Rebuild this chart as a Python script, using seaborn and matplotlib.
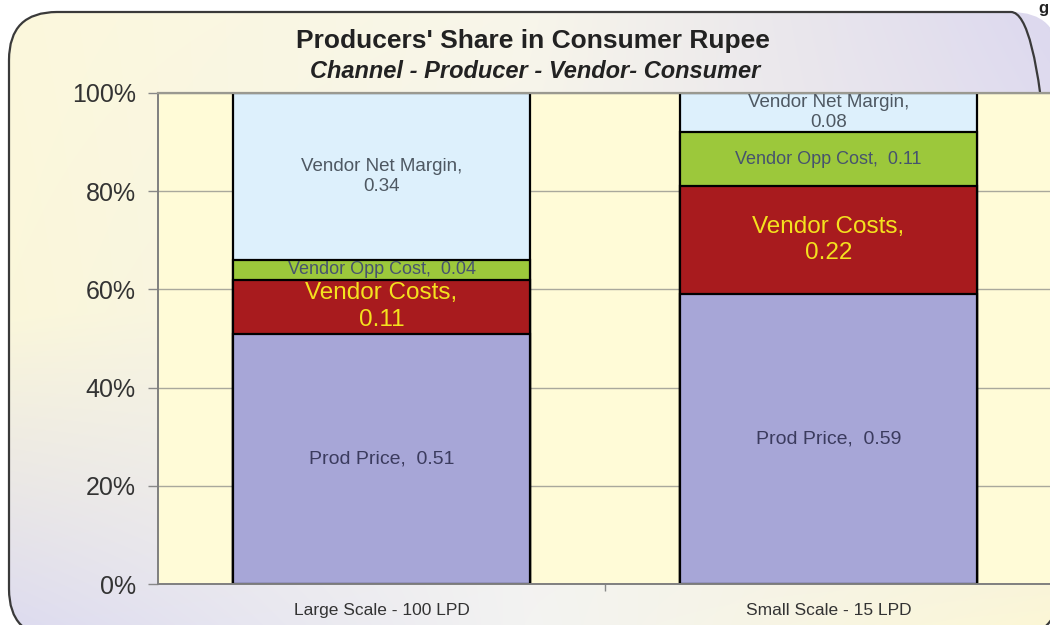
import numpy as np
import pandas as pd
import matplotlib
matplotlib.use("Agg")
import matplotlib.pyplot as plt
from matplotlib.patches import FancyBboxPatch
from matplotlib.transforms import IdentityTransform
from matplotlib.ticker import PercentFormatter, FixedLocator
from matplotlib.colors import to_rgb
import seaborn as sns

# ---------------- data ----------------
categories = ["Large Scale - 100 LPD", "Small Scale - 15 LPD"]
segments = ["Prod Price", "Vendor Costs", "Vendor Opp Cost", "Vendor Net Margin"]
prod_price = [0.51, 0.59]
vendor_costs = [0.11, 0.22]
vendor_opp_cost = [0.04, 0.11]
vendor_net_margin = [0.34, 0.08]
title = "Producers' Share in Consumer Rupee"
subtitle = "Channel - Producer - Vendor- Consumer"

series = [prod_price, vendor_costs, vendor_opp_cost, vendor_net_margin]
seg_colors = ["#A7A6D7", "#A81B1E", "#9CC83B", "#DDF0FC"]
txt_colors = ["#3B3B5E", "#F4E21E", "#46536E", "#4E5862"]
txt_sizes = [14, 17.5, 13, 13.5]
two_line = [False, True, False, True]

sns.set_style("ticks")
plt.rcParams["font.family"] = ["Liberation Sans", "DejaVu Sans"]

W, H = 1050, 625
fig = plt.figure(figsize=(W / 100, H / 100), dpi=100)
fig.patch.set_facecolor("white")

# ---------------- background panel in pixel coordinates ----------------
grid_cols = [["#FCF8DC", "#F8F6EA", "#DCD8EF"],
             ["#FBF7DA", "#F4F2EC", "#E6E2EE"],
             ["#DDDBEF", "#F3F3F2", "#FCF7D6"]]
g = np.array([[to_rgb(c) for c in row] for row in grid_cols])
Y, X = np.mgrid[0:H, 0:W]
u = X / (W - 1) * 2
v = Y / (H - 1) * 2
c0 = np.minimum(u.astype(int), 1); tx = (u - c0)[..., None]
r0 = np.minimum(v.astype(int), 1); ty = (v - r0)[..., None]
top = g[r0, c0] * (1 - tx) + g[r0, c0 + 1] * tx
bot = g[r0 + 1, c0] * (1 - tx) + g[r0 + 1, c0 + 1] * tx
img = top * (1 - ty) + bot * ty

panel = FancyBboxPatch((9, -12), 1050, 625, boxstyle="round,pad=0,rounding_size=48",
                       facecolor="none", edgecolor="#3A3A3A", lw=1.6,
                       transform=IdentityTransform(), zorder=-5)
fimg = fig.figimage(img, xo=0, yo=0, origin="upper", zorder=-10)
fimg.set_clip_path(panel)
fig.add_artist(panel)

fig.text(1043 / W, 1 - 1 / H, "g", fontsize=12, fontweight="bold",
         ha="center", va="top", color="#222222")

# ---------------- main chart ----------------
ax = fig.add_axes([158 / W, 41 / H, 894 / W, 491 / H])
ax.set_facecolor("#FFFBD7")
ax.set_axisbelow(True)

cum = np.cumsum(np.array(series), axis=0)
for k in range(len(segments) - 1, -1, -1):
    df = pd.DataFrame({"scale": categories, "value": cum[k]})
    sns.barplot(data=df, x="scale", y="value", color=seg_colors[k], saturation=1,
                width=0.664, edgecolor="black", linewidth=1.6, errorbar=None, ax=ax)

ax.set_xlim(-0.5, 1.5)
ax.set_ylim(0, 1.0)
ax.set_xlabel("")
ax.set_ylabel("")

# labels
for k, name in enumerate(segments):
    for i in range(len(categories)):
        val = series[k][i]
        lo = cum[k][i] - val
        sep = ",\n" if two_line[k] else ",  "
        lab = f"{name}{sep}{val:.2f}"
        ax.text(i, lo + val / 2, lab, ha="center", va="center", color=txt_colors[k],
                fontsize=txt_sizes[k], linespacing=1.25, zorder=5)

# axes styling
ax.yaxis.set_major_locator(FixedLocator([0, 0.2, 0.4, 0.6, 0.8, 1.0]))
ax.yaxis.set_major_formatter(PercentFormatter(1.0, decimals=0))
ax.yaxis.grid(True, color="#A9A89C", lw=1.0)
ax.tick_params(axis="y", direction="out", length=7, width=1, color="#888888",
               labelsize=18, labelcolor="#333333", pad=9)
ax.tick_params(axis="x", which="major", length=0, labelsize=12.5, labelcolor="#333333", pad=14)
ax.xaxis.set_minor_locator(FixedLocator([0.5]))
ax.tick_params(axis="x", which="minor", direction="out", length=5, width=1, color="#888888")
for s in ["left", "bottom"]:
    ax.spines[s].set_color("#7F7F7F")
    ax.spines[s].set_linewidth(1.4)
ax.spines["top"].set_color("#9A9990")
ax.spines["top"].set_linewidth(1.6)
ax.spines["right"].set_visible(False)

# titles
fig.text(533 / W, 1 - 41 / H, title, ha="center", va="center",
         fontsize=19, fontweight="bold", color="#222222")
fig.text(535 / W, 1 - 72 / H, subtitle, ha="center", va="center",
         fontsize=17, fontweight="bold", fontstyle="italic", color="#222222")

fig.savefig("out.png", dpi=100)
